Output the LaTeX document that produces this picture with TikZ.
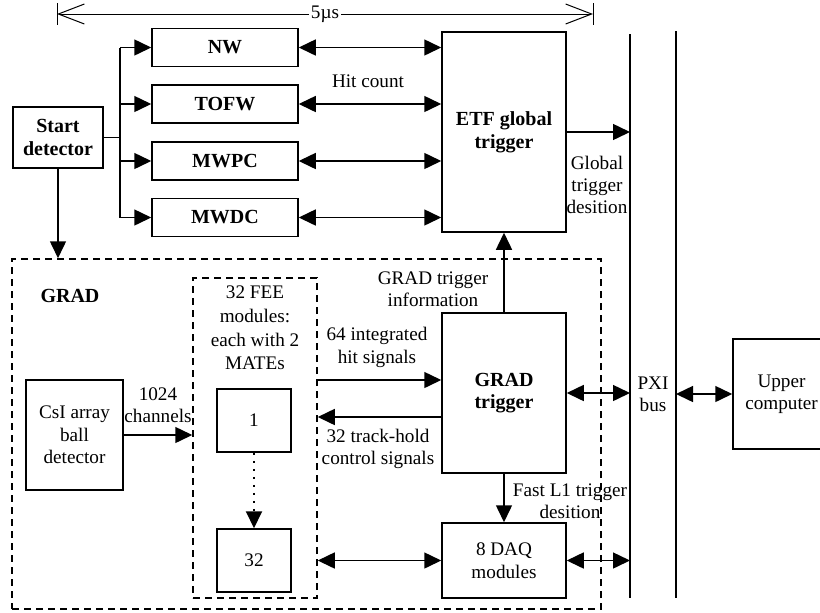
\documentclass[tikz,border=0pt]{standalone}
\usepackage{fontspec}
\setmainfont{Liberation Serif}
\usetikzlibrary{arrows.meta}

\tikzset{
	tri/.tip={Triangle[length=8.5pt,width=8pt]},
	barb/.tip={Straight Barb[length=13pt,width=10pt]},
	blk/.style={draw, line width=0.75pt, inner sep=1pt, align=center},
	blkb/.style={blk, font=\fontsize{10}{11.4}\selectfont\bfseries},
	dashbox/.style={draw, line width=0.75pt, dash pattern=on 3.5pt off 2.5pt, inner sep=0pt},
	lbl/.style={align=center, inner sep=1pt},
	sig/.style={line width=0.75pt},
}

\begin{document}
\begin{tikzpicture}[x=0.5pt, y=-0.5pt, font=\fontsize{9.6}{11.2}\selectfont]
	\useasboundingbox (0,0) rectangle (820,612);
	\clip (0,0) rectangle (820,612);
	%\draw[help lines] (0,0) grid[step=50] (820,612);

	% dashed groups
	\node[dashbox, minimum width=294.5pt, minimum height=175pt] (gradbox) at (306.5,434) {};
	\node[dashbox, minimum width=62pt, minimum height=160pt] (feebox) at (255,438) {};

	% detectors
	\node[blkb, minimum width=45pt, minimum height=30.5pt] (start) at (58,137.5) {Start\\detector};
	\node[blkb, minimum width=73pt, minimum height=19pt] (nw) at (225,47.5) {NW};
	\node[blkb, minimum width=73pt, minimum height=19pt] (tofw) at (225,104) {TOFW};
	\node[blkb, minimum width=73pt, minimum height=19pt] (mwpc) at (225,161) {MWPC};
	\node[blkb, minimum width=73pt, minimum height=19pt] (mwdc) at (225,217.5) {MWDC};
	\node[blkb, minimum width=62pt, minimum height=100pt] (etf) at (504,132) {ETF global\\trigger};

	% GRAD part
	\node[blk, minimum width=48.5pt, minimum height=55pt] (csi) at (74.5,435) {CsI array\\ball\\detector};
	\node[blk, minimum width=37pt, minimum height=31.5pt] (fee1) at (254,420.5) {1};
	\node[blk, minimum width=37pt, minimum height=31.5pt] (fee32) at (254,560.5) {32};
	\node[blkb, minimum width=62pt, minimum height=80pt] (gradtrig) at (504,393) {GRAD\\trigger};
	\node[blk, minimum width=62pt, minimum height=37.5pt] (daq) at (504,560.5) {8 DAQ\\modules};
	\node[blk, minimum width=48.5pt, minimum height=55pt] (upper) at (781.5,394) {Upper\\computer};

	% PXI bus
	\coordinate (pxiLt) at (630,34);
	\coordinate (pxiLb) at (630,598);
	\coordinate (pxiRt) at (676,31);
	\coordinate (pxiRb) at (676,598);
	\draw[sig] (pxiLt) -- (pxiLb);
	\draw[sig] (pxiRt) -- (pxiRb);

	% 5us span
	\coordinate (dimL) at (57,14);
	\coordinate (dimR) at (593,14);
	\draw[line width=0.5pt, barb-barb] (dimL) -- node[fill=white, inner sep=1pt] (dimlbl) {5µs} (dimR);
	\draw[line width=0.5pt] ([yshift=5.5pt]dimL) -- ([yshift=-5.5pt]dimL);
	\draw[line width=0.5pt] ([yshift=5.5pt]dimR) -- ([yshift=-5.5pt]dimR);

	% start detector fan out
	\coordinate (br) at (120,137.5);
	\draw[sig] (start.east) -- (br);
	\draw[sig] (br |- nw) -- (br |- mwdc);
	\foreach \d in {nw,tofw,mwpc,mwdc} {
		\draw[sig, -tri] (br |- \d) -- (\d.west);
		\draw[sig, tri-tri] (\d.east) -- (\d.east -| etf.west);
	}
	\draw[sig, -tri] (etf.east) -- (etf.east -| pxiLt);
	\draw[sig, -tri] (start.south) -- (start.south |- gradbox.north);

	% inside GRAD
	\draw[sig, -tri] (csi.east) -- (csi.east -| feebox.west);
	\draw[line width=1pt, dash pattern=on 1pt off 3pt, -tri] (fee1.south) -- (fee32.north);
	\coordinate (hitin) at ([yshift=6.5pt]gradtrig.west);
	\coordinate (thout) at ([yshift=-12pt]gradtrig.west);
	\draw[sig, -tri] (hitin -| feebox.east) -- (hitin);
	\draw[sig, -tri] (thout) -- (thout -| feebox.east);
	\draw[sig, -tri] (gradtrig.north) -- (etf.south);
	\draw[sig, -tri] (gradtrig.south) -- (daq.north);
	\draw[sig, tri-tri] (daq.west -| feebox.east) -- (daq.west);
	\draw[sig, tri-tri] (gradtrig.east) -- (gradtrig.east -| pxiLt);
	\draw[sig, tri-tri] (daq.east) -- (daq.east -| pxiLt);
	\draw[sig, tri-tri] (upper.west -| pxiRt) -- (upper.west);

	% labels
	\node[lbl] (hitcnt) at (368,81) {Hit count};
	\node[lbl] (globdec) at (597,185) {Global\\trigger\\desition};
	\node[lbl, font=\fontsize{10}{11.4}\selectfont\bfseries] (gradlbl) at (70,296) {GRAD};
	\node[lbl, font=\fontsize{9.6}{11.8}\selectfont] (feelbl) at (255,328) {32 FEE\\modules:\\each with 2\\MATEs};
	\node[lbl] (chanlbl) at (158,405) {1024\\channels};
	\node[lbl] (gradinfo) at (433,289) {GRAD trigger\\information};
	\node[lbl] (hitsig) at (377,347.5) {64 integrated\\hit signals};
	\node[lbl] (thlbl) at (378,449) {32 track-hold\\control signals};
	\node[lbl] (fastlbl) at (570,501.5) {Fast L1 trigger\\desition};
	\node[lbl] (pxilbl) at (653,394) {PXI\\bus};
\end{tikzpicture}
\end{document}
